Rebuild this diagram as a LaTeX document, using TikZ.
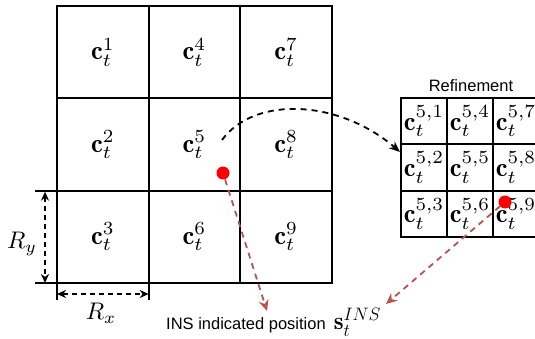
\documentclass[tikz,border=0pt]{standalone}
\usepackage{graphicx}
\usepackage{fontspec}
\newfontfamily\helv{Liberation Sans}
\usetikzlibrary{arrows.meta}
\definecolor{arrowred}{RGB}{184,84,80}
\newcommand{\cellmath}[1]{\scalebox{2.65}{$#1$}}
\newcommand{\dimmath}[1]{\scalebox{2.4}{$#1$}}
\tikzset{
  bigcell/.style={draw, line width=1.8pt, minimum width=91.67pt, minimum height=92.33pt, inner sep=0pt, outer sep=0pt},
  refcell/.style={draw, line width=2.2pt, minimum width=46pt, minimum height=46.33pt, inner sep=0pt, outer sep=0pt},
  dot/.style={circle, fill=red, minimum size=13pt, inner sep=0pt},
  redarrow/.style={draw=arrowred, line width=1.8pt, dash pattern=on 6pt off 5pt, -{Stealth[length=11pt,width=10pt]}},
  blackarrow/.style={draw=black, line width=1.8pt, dash pattern=on 6pt off 5pt, -{Stealth[length=11pt,width=9pt]}},
  dimarrow/.style={draw=black, line width=1.8pt, dash pattern=on 5pt off 4pt, {Stealth[length=9pt,width=8pt]}-{Stealth[length=9pt,width=8pt]}},
  gridline/.style={line width=1.8pt},
  sanslabel/.style={font=\helv\fontsize{16.5}{20}\selectfont, inner sep=0pt},
  dimlabel/.style={inner sep=0pt}
}
\begin{document}
\begin{tikzpicture}[x=1pt,y=-1pt]
\useasboundingbox (0,0) rectangle (535,339);
\clip (0,0) rectangle (535,339);
% big grid
\node[bigcell] (c1) at (102.83,52.17) {\cellmath{\mathbf{c}_t^1}};
\node[bigcell] (c2) at (102.83,144.5) {\cellmath{\mathbf{c}_t^2}};
\node[bigcell] (c3) at (102.83,236.83) {\cellmath{\mathbf{c}_t^3}};
\node[bigcell] (c4) at (194.5,52.17) {\cellmath{\mathbf{c}_t^4}};
\node[bigcell] (c5) at (194.5,144.5) {\cellmath{\mathbf{c}_t^5}};
\node[bigcell] (c6) at (194.5,236.83) {\cellmath{\mathbf{c}_t^6}};
\node[bigcell] (c7) at (286.17,52.17) {\cellmath{\mathbf{c}_t^7}};
\node[bigcell] (c8) at (286.17,144.5) {\cellmath{\mathbf{c}_t^8}};
\node[bigcell] (c9) at (286.17,236.83) {\cellmath{\mathbf{c}_t^9}};
% extension lines
\draw[gridline] (c3.north west) -- ++(-22,0);
\draw[gridline] (c3.south west) -- ++(-22,0);
\draw[gridline] (c3.south west) -- ++(0,17);
\draw[gridline] (c3.south east) -- ++(0,17);
% dimension arrows
\coordinate (ryt) at (45,191.67);
\coordinate (ryb) at (45,283);
\draw[dimarrow] (ryt) -- (ryb);
\node[dimlabel] (ry) at (22,244) {\dimmath{R_y}};
\coordinate (rxl) at (57,294);
\coordinate (rxr) at (148.67,294);
\draw[dimarrow] (rxl) -- (rxr);
\node[dimlabel] (rx) at (101,313) {\dimmath{R_x}};
% refinement grid
\node[sanslabel] (reftitle) at (471,86) {Refinement};
\node[refcell] (r1) at (424,121.17) {\cellmath{\mathbf{c}_t^{5,1}}};
\node[refcell] (r2) at (424,167.5) {\cellmath{\mathbf{c}_t^{5,2}}};
\node[refcell] (r3) at (424,213.83) {\cellmath{\mathbf{c}_t^{5,3}}};
\node[refcell] (r4) at (470,121.17) {\cellmath{\mathbf{c}_t^{5,4}}};
\node[refcell] (r5) at (470,167.5) {\cellmath{\mathbf{c}_t^{5,5}}};
\node[refcell] (r6) at (470,213.83) {\cellmath{\mathbf{c}_t^{5,6}}};
\node[refcell] (r7) at (516,121.17) {\cellmath{\mathbf{c}_t^{5,7}}};
\node[refcell] (r8) at (516,167.5) {\cellmath{\mathbf{c}_t^{5,8}}};
\node[refcell] (r9) at (516,213.83) {\cellmath{\mathbf{c}_t^{5,9}}};
% curve
\coordinate (cs) at (222,140);
\coordinate (ce) at (400,152);
\draw[blackarrow] (cs) .. controls (255,95) and (340,100) .. (ce);
% label
\node[sanslabel, anchor=west] (ins) at (166,322) {INS indicated position\hspace{8pt}\scalebox{1.5}{$\mathbf{s}_t^{INS}$}};
\coordinate (a1) at (267,311);
\coordinate (a2) at (386,304);
% dots and red arrows
\node[dot] (d1) at (223,173) {};
\node[dot] (d2) at (505,202) {};
\draw[redarrow] (d1) -- (a1);
\draw[redarrow] (d2) -- (a2);
\end{tikzpicture}
\end{document}
